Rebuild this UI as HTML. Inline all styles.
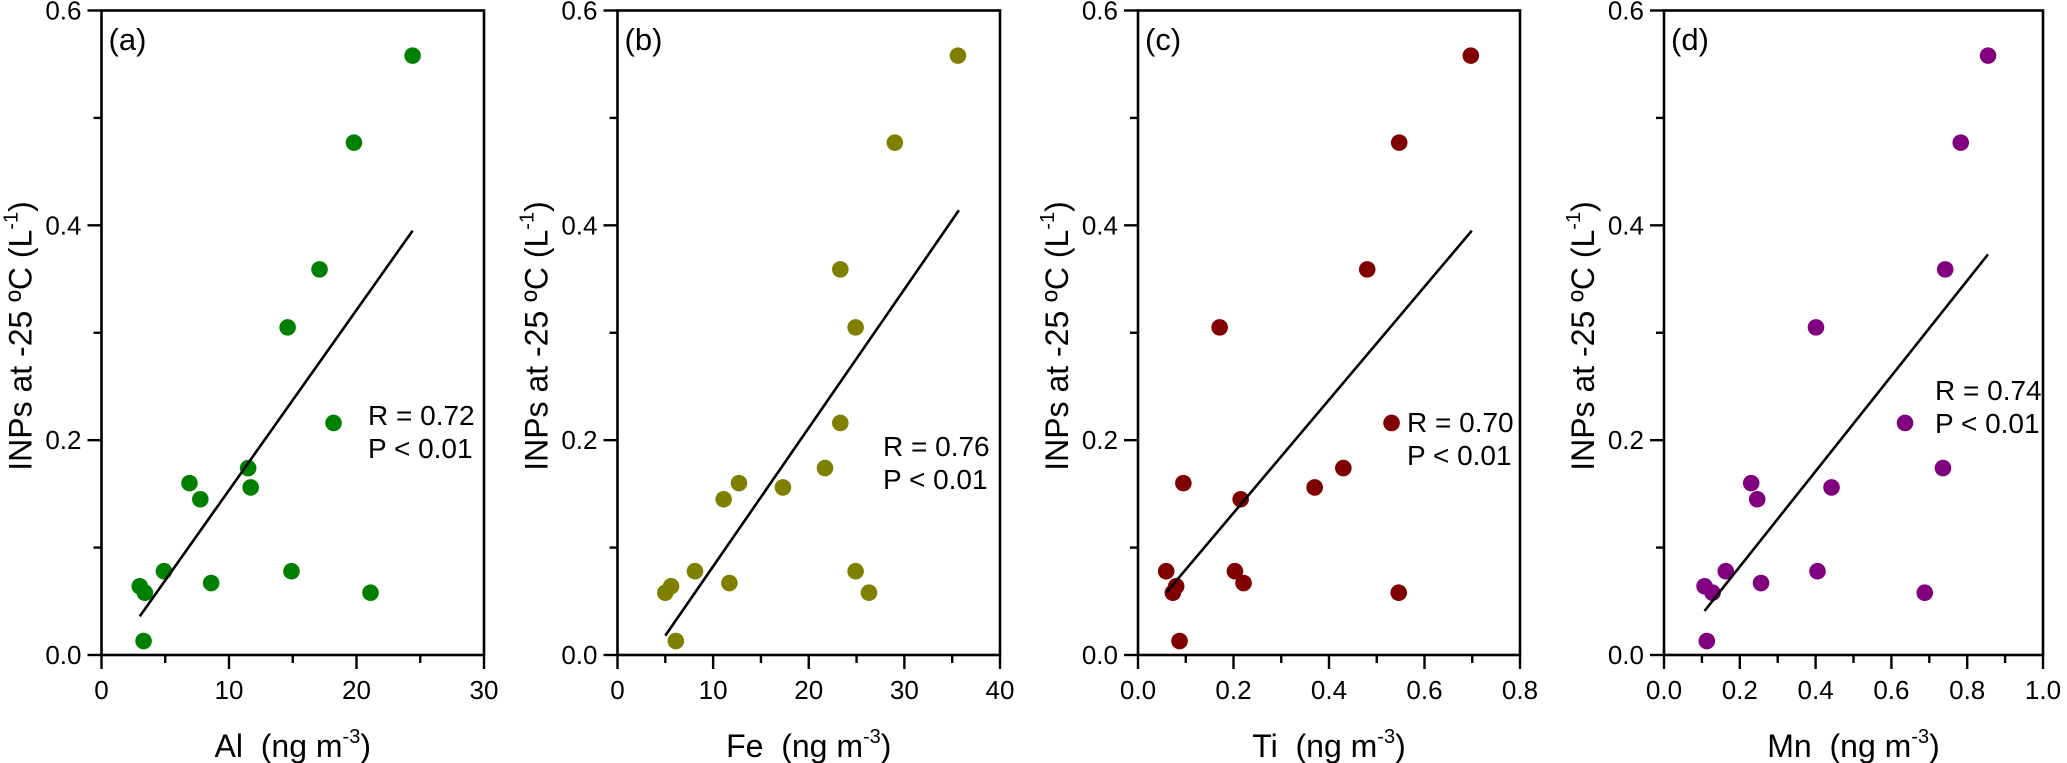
<!DOCTYPE html>
<html><head><meta charset="utf-8"><style>
html,body{margin:0;padding:0;background:#fff;}
svg{display:block;font-family:"Liberation Sans",Arial,sans-serif;}
</style></head><body>
<svg id="chart" width="2067" height="763" viewBox="0 0 2067 763" xmlns="http://www.w3.org/2000/svg"></svg>
<script>
// Shared y values (INPs at -25 °C, L^-1)
const inpValues = [0.558,0.477,0.359,0.305,0.216,0.174,0.160,0.156,0.145,0.078,0.078,0.067,0.064,0.058,0.058,0.013];
// Panel x values
const alValues = [24.4,19.8,17.1,14.6,18.2,11.5,6.9,11.7,7.75,4.9,14.9,8.6,3.0,3.4,21.1,3.3];
const feValues = [35.6,29.0,23.3,24.9,23.3,21.7,12.7,17.3,11.1,8.1,24.9,11.7,5.6,5.0,26.3,6.1];
const tiValues = [0.697,0.547,0.480,0.171,0.531,0.430,0.095,0.370,0.215,0.059,0.203,0.221,0.080,0.073,0.546,0.087];
const mnValues = [0.855,0.783,0.742,0.401,0.636,0.736,0.230,0.442,0.246,0.163,0.405,0.256,0.107,0.128,0.688,0.113];
// Fit line endpoints [x0,y0,x1,y1]
const alFit = [3.0,0.036,24.4,0.395];
const feFit = [5.0,0.018,35.7,0.414];
const tiFit = [0.059,0.058,0.699,0.395];
const mnFit = [0.107,0.041,0.855,0.373];
// Tick labels
const yTicks = ["0.0","0.2","0.4","0.6"];
const alTicks = ["0","10","20","30"];
const feTicks = ["0","10","20","30","40"];
const tiTicks = ["0.0","0.2","0.4","0.6","0.8"];
const mnTicks = ["0.0","0.2","0.4","0.6","0.8","1.0"];
const stats = [["R = 0.72","P < 0.01"],["R = 0.76","P < 0.01"],["R = 0.70","P < 0.01"],["R = 0.74","P < 0.01"]];

const NS="http://www.w3.org/2000/svg";
const svg=document.getElementById('chart');
function mk(tag,attrs,parent){const e=document.createElementNS(NS,tag);for(const k in attrs)e.setAttribute(k,attrs[k]);(parent||svg).appendChild(e);return e;}

const TOP=10.5, BOT=655;
const panels=[
 {id:'a',left:101.5,right:484,xmax:30,xs:alValues,fit:alFit,ticks:alTicks,color:'#008000',el:'Al',st:[368,425]},
 {id:'b',left:617.5,right:1000,xmax:40,xs:feValues,fit:feFit,ticks:feTicks,color:'#808000',el:'Fe',st:[883,456]},
 {id:'c',left:1138,right:1520,xmax:0.8,xs:tiValues,fit:tiFit,ticks:tiTicks,color:'#800000',el:'Ti',st:[1407,432]},
 {id:'d',left:1664,right:2043,xmax:1.0,xs:mnValues,fit:mnFit,ticks:mnTicks,color:'#800080',el:'Mn',st:[1935,400]}
];
panels.forEach((p,pi)=>{
  const g=mk('g',{});
  
  
  const X=v=>p.left+(v/p.xmax)*(p.right-p.left);
  const Y=v=>BOT-(v/0.6)*(BOT-TOP);
  const frame=mk('rect',{x:p.left,y:TOP,width:p.right-p.left,height:BOT-TOP,fill:'none',stroke:'#000','stroke-width':2.6},g);
  
  
  for(let i=0;i<=6;i++){
    const v=i*0.1, y=Y(v), major=i%2===0;
    const t=mk('line',{x1:p.left-(major?14:8),x2:p.left,y1:y,y2:y,stroke:'#000','stroke-width':2.4},g);
    
    
    if(major){
      const tx=mk('text',{x:p.left-20,y:y+9,'text-anchor':'end','font-size':26,fill:'#000'},g);
      tx.textContent=yTicks[i/2];
      
      
    }
  }
  const n=p.ticks.length-1;
  for(let i=0;i<=2*n;i++){
    const v=p.xmax*i/(2*n), x=X(v), major=i%2===0;
    const t=mk('line',{x1:x,x2:x,y1:BOT,y2:BOT+(major?14:8),stroke:'#000','stroke-width':2.4},g);
    
    
    if(major){
      const tx=mk('text',{x:x,y:699,'text-anchor':'middle','font-size':26,fill:'#000'},g);
      tx.textContent=p.ticks[i/2];
      
      
    }
  }
  p.xs.forEach((xv,i)=>{
    const c=mk('circle',{cx:X(xv),cy:Y(inpValues[i]),r:8.3,fill:p.color},g);
    
    
  });
  const ln=mk('line',{x1:X(p.fit[0]),y1:Y(p.fit[1]),x2:X(p.fit[2]),y2:Y(p.fit[3]),stroke:'#000','stroke-width':2.6},g);
  
  
  const lb=mk('text',{x:p.left+7,y:50,'font-size':31,fill:'#000'},g);
  lb.textContent='('+p.id+')';
  
  
  stats[pi].forEach((s,k)=>{
    const st=mk('text',{x:p.st[0],y:p.st[1]+k*33,'font-size':28,fill:'#000'},g);
    st.textContent=s;
    
    
  });
  const xt=mk('text',{x:(p.left+p.right)/2,y:757,'text-anchor':'middle','font-size':32,fill:'#000'},g);
  xt.innerHTML=p.el+'&#160; (ng m<tspan font-size="20" dy="-14">-3</tspan><tspan dy="14">)</tspan>';
  
  
  const cx=p.left-70, cy=336;
  const yt=mk('text',{x:cx,y:cy,transform:'rotate(-90 '+cx+' '+cy+')','text-anchor':'middle','font-size':32,fill:'#000'},g);
  yt.innerHTML='INPs at -25 ºC (L<tspan font-size="20" dy="-14">-1</tspan><tspan dy="14">)</tspan>';
  
  
});
</script>
</body></html>
